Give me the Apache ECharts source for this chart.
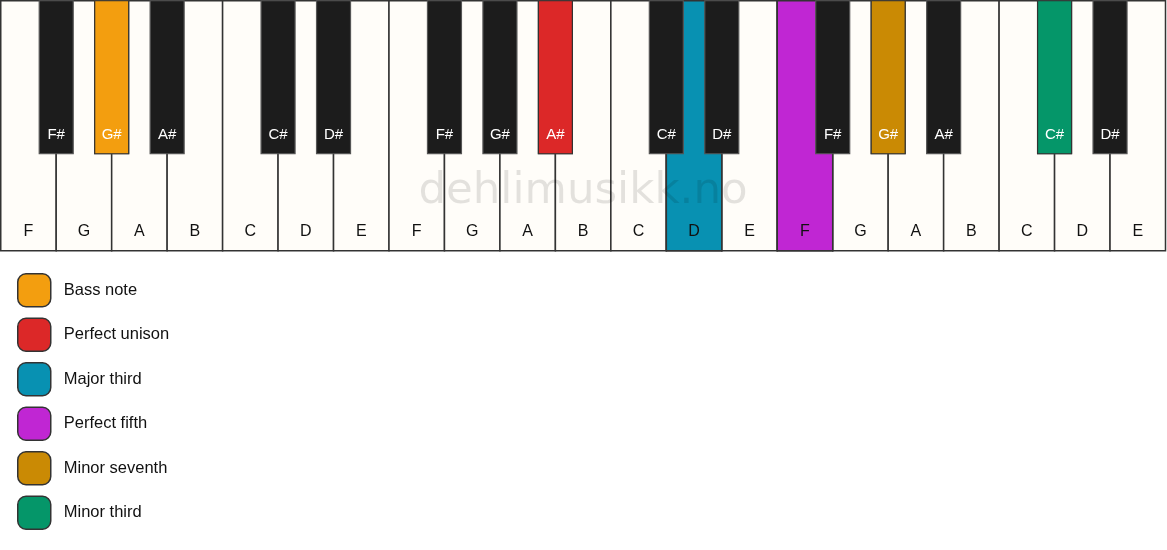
<!DOCTYPE html>
<html>
<head>
<meta charset="utf-8">
<title>Piano chord</title>
<script src="https://cdn.jsdelivr.net/npm/echarts@6/dist/echarts.min.js"></script>
<style>
  html, body { margin: 0; padding: 0; background: #fff; }
  #chart { width: 1167px; height: 550px; }
</style>
</head>
<body>
<div id="chart"></div>
<script>
// keys, left to right
var whiteNotes = ['F','G','A','B','C','D','E','F','G','A','B','C','D','E','F','G','A','B','C','D','E'];
var blackNotes = ['F#','G#','A#','C#','D#','F#','G#','A#','C#','D#','F#','G#','A#','C#','D#'];
// white-key boundary each black key sits on
var blackPos = [1, 2, 3, 5, 6, 8, 9, 10, 12, 13, 15, 16, 17, 19, 20];

// highlighted notes (legend)
var intervals = ['Bass note', 'Perfect unison', 'Major third', 'Perfect fifth', 'Minor seventh', 'Minor third'];
var intervalColors = ['#F39E0F', '#DC2828', '#0891B2', '#C026D3', '#CA8A04', '#059669'];
var intervalKeyType = ['black', 'black', 'white', 'white', 'black', 'black'];
var intervalKeyIndex = [1, 7, 12, 14, 11, 13];

var KEY_H = 250, BLACK_H = 153, BLACK_W = 34;
var FONT = 'Liberation Sans, Arial, sans-serif';

function whiteShape(i, api, fill) {
    var p0 = api.coord([i, 0]);
    var p1 = api.coord([i + 1, KEY_H]);
    return {
        type: 'group',
        children: [{
            type: 'rect',
            shape: { x: p0[0], y: p0[1], width: p1[0] - p0[0], height: p1[1] - p0[1] },
            style: { fill: fill, stroke: '#333', lineWidth: 1.5 }
        }, {
            type: 'text',
            style: {
                text: whiteNotes[i], x: (p0[0] + p1[0]) / 2, y: p1[1] - 19,
                align: 'center', verticalAlign: 'middle',
                fill: '#111', font: '16px ' + FONT
            }
        }]
    };
}

function blackShape(j, api, fill) {
    var c = api.coord([blackPos[j], 0]);
    var b = api.coord([blackPos[j], BLACK_H]);
    return {
        type: 'group',
        children: [{
            type: 'rect',
            shape: { x: c[0] - BLACK_W / 2, y: c[1], width: BLACK_W, height: b[1] - c[1] },
            style: { fill: fill, stroke: fill === '#1c1c1c' ? '#555' : '#333', lineWidth: 1.2 }
        }, {
            type: 'text',
            style: {
                text: blackNotes[j], x: c[0], y: b[1] - 19,
                align: 'center', verticalAlign: 'middle',
                fill: '#fff', font: '15px ' + FONT
            }
        }]
    };
}

var chart = echarts.init(document.getElementById('chart'));

var series = [{
    name: 'white',
    type: 'custom',
    z: 1,
    data: whiteNotes.map(function (n, i) { return [i, 0]; }),
    renderItem: function (params, api) {
        return whiteShape(params.dataIndex, api, '#fffdf9');
    }
}, {
    name: 'black',
    type: 'custom',
    z: 3,
    data: blackPos.map(function (p) { return [p, 0]; }),
    renderItem: function (params, api) {
        return blackShape(params.dataIndex, api, '#1c1c1c');
    }
}];

intervals.forEach(function (name, k) {
    var isBlack = intervalKeyType[k] === 'black';
    var idx = intervalKeyIndex[k];
    series.push({
        name: name,
        type: 'custom',
        z: isBlack ? 4 : 2,
        itemStyle: { color: intervalColors[k] },
        data: [[isBlack ? blackPos[idx] : idx, 0]],
        renderItem: function (params, api) {
            return isBlack ? blackShape(idx, api, intervalColors[k]) : whiteShape(idx, api, intervalColors[k]);
        }
    });
});

var option = {
    animation: false,
    grid: { left: 0.75, right: 1.5, top: 0.75, height: KEY_H },
    xAxis: { type: 'value', min: 0, max: whiteNotes.length, show: false },
    yAxis: { type: 'value', min: 0, max: KEY_H, inverse: true, show: false },
    legend: {
        data: intervals,
        orient: 'vertical',
        left: 17,
        top: 273,
        padding: 0,
        itemWidth: 33,
        itemHeight: 33,
        itemGap: 10,
        icon: 'roundRect',
        selectedMode: false,
        itemStyle: { borderColor: '#333', borderWidth: 1.5 },
        textStyle: { fontSize: 16.5, color: '#111', fontFamily: FONT, padding: [0, 0, 0, 8] }
    },
    graphic: [{
        type: 'text',
        z: 100,
        style: {
            text: 'dehlimusikk.no', x: 583, y: 192,
            align: 'center', verticalAlign: 'middle',
            fill: 'rgba(0,0,0,0.11)', font: '43.5px DejaVu Sans, sans-serif'
        }
    }],
    series: series
};

chart.setOption(option);
</script>
</body>
</html>
